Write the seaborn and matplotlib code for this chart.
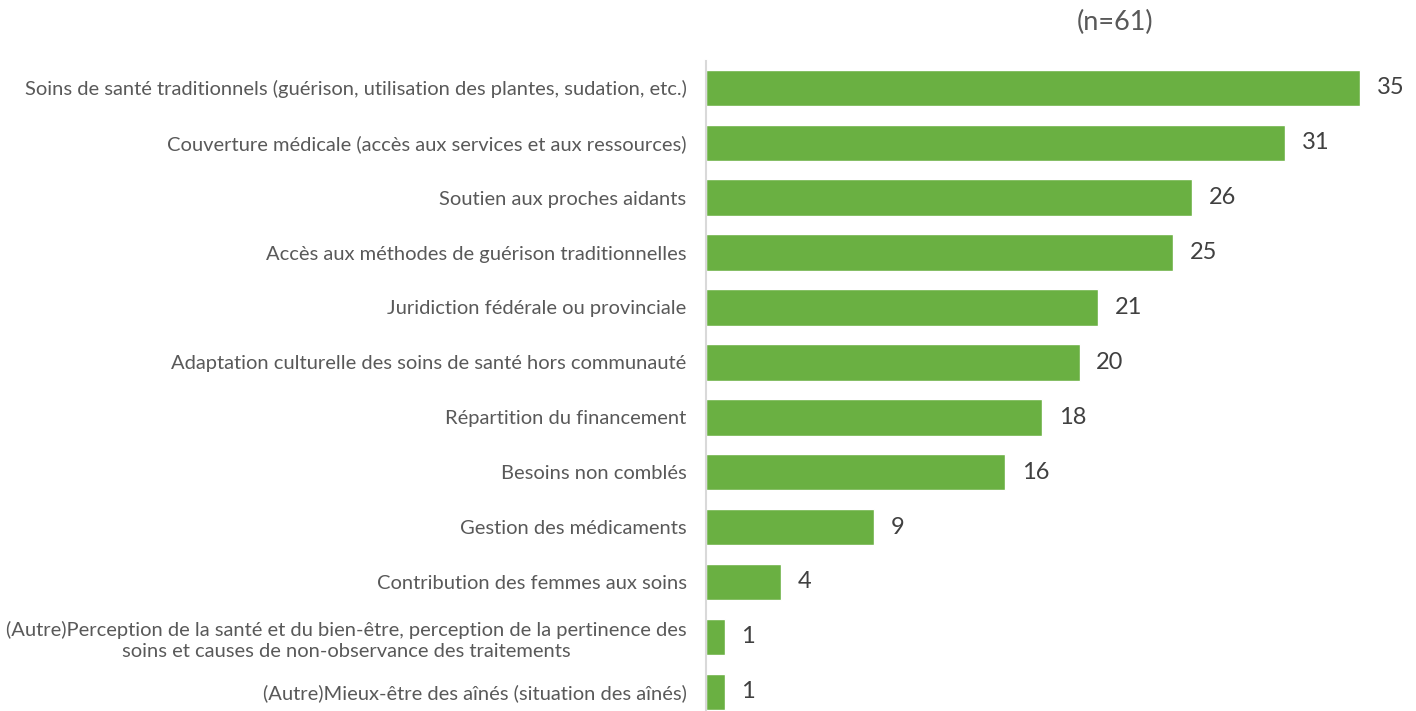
import matplotlib
matplotlib.use("Agg")
import matplotlib.pyplot as plt
import seaborn as sns
import pandas as pd

# données
categories = [
    "Soins de santé traditionnels (guérison, utilisation des plantes, sudation, etc.)",
    "Couverture médicale (accès aux services et aux ressources)",
    "Soutien aux proches aidants",
    "Accès aux méthodes de guérison traditionnelles",
    "Juridiction fédérale ou provinciale",
    "Adaptation culturelle des soins de santé hors communauté",
    "Répartition du financement",
    "Besoins non comblés",
    "Gestion des médicaments",
    "Contribution des femmes aux soins",
    "(Autre)Perception de la santé et du bien-être, perception de la pertinence des\nsoins et causes de non-observance des traitements",
    "(Autre)Mieux-être des aînés (situation des aînés)",
]
values = [35, 31, 26, 25, 21, 20, 18, 16, 9, 4, 1, 1]
title = "(n=61)"

df = pd.DataFrame({"categorie": categories, "valeur": values})

sns.set_theme(style="white")
plt.rcParams["font.family"] = ["Lato", "DejaVu Sans"]

fig = plt.figure(figsize=(14.16, 7.11), dpi=100)
ax = fig.add_axes([706 / 1416, 0.0, 1 - 706 / 1416, 1 - 61 / 711])

sns.barplot(data=df, y="categorie", x="valeur", color="#6AB042",
            saturation=1, width=0.665, orient="h", ax=ax)

ax.set_xlim(0, 38)
ax.set_ylim(11.35, -0.49)
ax.set_xlabel("")
ax.set_ylabel("")
ax.set_xticks([])

for side in ["top", "right", "bottom"]:
    ax.spines[side].set_visible(False)
ax.spines["left"].set_color("#D9D9D9")
ax.spines["left"].set_linewidth(1.5)

ax.tick_params(axis="y", length=0, pad=14, labelsize=14.5, labelcolor="#595959")
for lab in ax.get_yticklabels():
    lab.set_multialignment("center")
    lab.set_linespacing(1.3)

ax.bar_label(ax.containers[0], padding=12, fontsize=17, color="#404040")

fig.text(1115 / 1416, 1 - 22 / 711, title, ha="center", va="center",
         fontsize=19.5, color="#595959")

fig.savefig("out.png", dpi=100)
